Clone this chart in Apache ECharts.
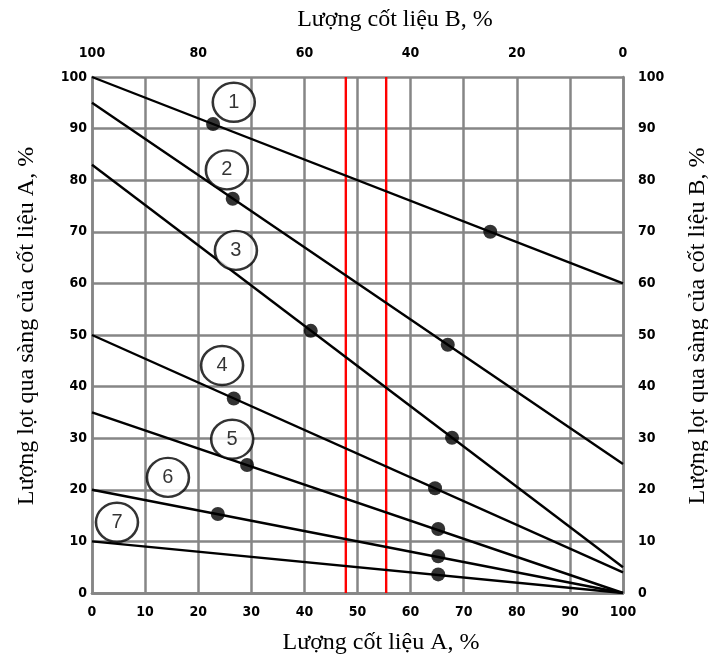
<!DOCTYPE html>
<html>
<head>
<meta charset="utf-8">
<script src="https://cdn.jsdelivr.net/npm/echarts@6/dist/echarts.min.js"></script>
<style>
  html, body { margin: 0; padding: 0; background: #fff; }
  #chart { width: 708px; height: 658px; }
</style>
</head>
<body>
<div id="chart"></div>
<script>
// Passing percentage of aggregate A at 0 % A ... 100 % A (straight blending lines)
const lineIds = ['1', '2', '3', '4', '5', '6', '7'];
const lineStart = [100, 95, 83, 50, 35, 20, 10];   // at A = 0 %
const lineEnd   = [60, 25, 5, 4, 0, 0, 0];         // at A = 100 %

// Measured sieve points on the blending lines
const pointA = [22.8, 75, 26.5, 67, 41.2, 67.8, 26.7, 64.6, 29.2, 65.2, 23.7, 65.2, 65.2];
const pointP = [90.9, 70, 76.4, 48.1, 50.8, 30.1, 37.7, 20.3, 24.8, 12.4, 15.3, 7.1, 3.6];

// Numbered circle tags for each line
const tagA = [26.7, 25.4, 27.1, 24.5, 26.4, 14.3, 4.7];
const tagP = [95.1, 82.0, 66.4, 44.1, 29.8, 22.4, 13.7];

// Limits of the blend proportion
const limitA = [47.8, 55.4];

// Axis titles
const titleTop = 'Lượng cốt liệu B, %';
const titleBottom = 'Lượng cốt liệu A, %';
const titleLeft = 'Lượng lọt qua sàng của cốt liệu A, %';
const titleRight = 'Lượng lọt qua sàng của cốt liệu B, %';

const chart = echarts.init(document.getElementById('chart'), null, { renderer: 'canvas' });

const tickFont = { fontFamily: '"DejaVu Sans Condensed", "DejaVu Sans"', fontWeight: 'bold', fontSize: 14, color: '#000' };
const gridLine = { show: true, lineStyle: { color: '#868686', width: 2.5 } };
const frameLine = { show: true, lineStyle: { color: '#868686', width: 2.5 } };

function titleText(text, x, y, rot) {
  return {
    type: 'text',
    x: x, y: y,
    rotation: rot,
    style: {
      text: text,
      fontFamily: 'Liberation Serif',
      fontSize: 24,
      fill: '#000',
      align: 'center',
      verticalAlign: 'middle'
    },
    silent: true
  };
}

const series = [];

lineIds.forEach((id, i) => {
  series.push({
    name: 'line' + id,
    type: 'line',
    xAxisIndex: 0, yAxisIndex: 0,
    data: [[0, lineStart[i]], [100, lineEnd[i]]],
    symbol: 'none',
    lineStyle: { color: '#000', width: 2.4 },
    z: 4,
    silent: true
  });
});

limitA.forEach((a, i) => {
  series.push({
    name: 'limit' + i,
    type: 'line',
    xAxisIndex: 0, yAxisIndex: 0,
    data: [[a, 0], [a, 100]],
    symbol: 'none',
    lineStyle: { color: '#ff0000', width: 2.4 },
    z: 3,
    silent: true
  });
});

series.push({
  name: 'points',
  type: 'scatter',
  xAxisIndex: 0, yAxisIndex: 0,
  data: pointA.map((a, i) => [a, pointP[i]]),
  symbol: 'circle',
  symbolSize: 14,
  itemStyle: { color: '#000' },
  z: 5,
  silent: true
});

series.push({
  name: 'tags',
  type: 'scatter',
  xAxisIndex: 0, yAxisIndex: 0,
  data: tagA.map((a, i) => ({ value: [a, tagP[i]], name: lineIds[i] })),
  symbol: 'circle',
  symbolSize: [42, 39],
  itemStyle: { color: '#fff', borderColor: '#000', borderWidth: 2.5 },
  label: {
    show: true,
    position: 'inside',
    formatter: p => p.name,
    fontFamily: 'Liberation Sans',
    fontSize: 20,
    color: '#000'
  },
  z: 6,
  silent: true
});

chart.setOption({
  animation: false,
  backgroundColor: '#fff',
  grid: { left: 92, right: 85, top: 77, bottom: 65, outerBoundsMode: 'none', containLabel: false },
  xAxis: [
    {
      type: 'value', position: 'bottom', min: 0, max: 100, interval: 10,
      axisLine: frameLine,
      axisTick: { show: false },
      axisLabel: Object.assign({ margin: 12 }, tickFont),
      splitLine: gridLine
    },
    {
      type: 'value', position: 'top', min: 0, max: 100, interval: 20, inverse: true,
      axisLine: frameLine,
      axisTick: { show: false },
      axisLabel: Object.assign({ margin: 17 }, tickFont),
      splitLine: { show: false }
    }
  ],
  yAxis: [
    {
      type: 'value', position: 'left', min: 0, max: 100, interval: 10,
      axisLine: frameLine,
      axisTick: { show: false },
      axisLabel: Object.assign({ margin: 5 }, tickFont),
      splitLine: gridLine
    },
    {
      type: 'value', position: 'right', min: 0, max: 100, interval: 10,
      axisLine: frameLine,
      axisTick: { show: false },
      axisLabel: Object.assign({ margin: 15 }, tickFont),
      splitLine: { show: false }
    }
  ],
  graphic: [
    titleText(titleTop, 395, 20, 0),
    titleText(titleBottom, 381, 643, 0),
    titleText(titleLeft, 27, 326, Math.PI / 2),
    titleText(titleRight, 698, 326, Math.PI / 2)
  ],
  series: series
});
</script>
</body>
</html>
